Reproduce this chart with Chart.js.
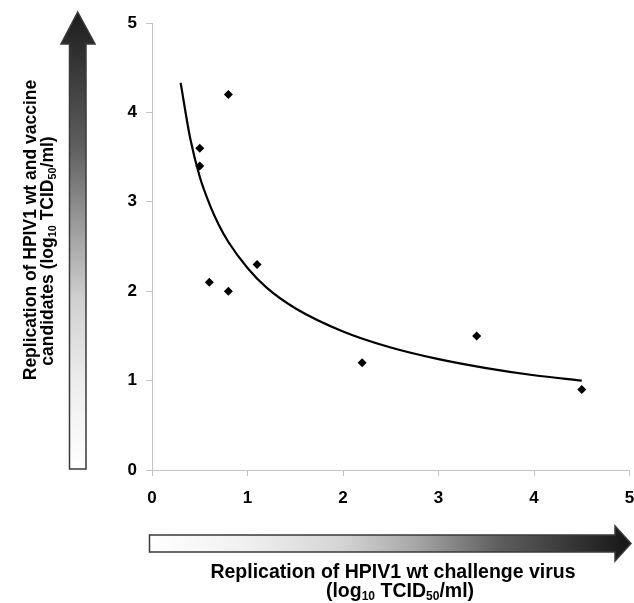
<!DOCTYPE html>
<html><head><meta charset="utf-8">
<script src="https://cdn.jsdelivr.net/npm/chart.js@4"></script>
<style>
body{margin:0;background:#fff;}
#wrap{position:relative;width:634px;height:603px;overflow:hidden;background:#fff;}
#c{position:absolute;left:0;top:0;}
.t{position:absolute;font-family:Arial,"Liberation Sans",sans-serif;font-weight:bold;color:#000;white-space:nowrap;line-height:1;}
.ty{transform:translate(-50%,-50%) rotate(-90deg);font-size:17.5px;}
.tx{transform:translate(-50%,-50%);font-size:19.5px;}
sub{font-size:62%;vertical-align:-0.22em;line-height:0;}
</style></head>
<body>
<div id="wrap">
<canvas id="c" width="634" height="603"></canvas>
<div class="t ty" style="left:31px;top:230px;">Replication of HPIV1 wt and vaccine</div>
<div class="t ty" style="left:48px;top:251px;">candidates (log<sub>10</sub> TCID<sub>50</sub>/ml)</div>
<div class="t tx" style="left:393px;top:572px;">Replication of HPIV1 wt challenge virus</div>
<div class="t tx" style="left:400px;top:591px;">(log<sub>10</sub> TCID<sub>50</sub>/ml)</div>
</div>
<script>
// Observed data points
const xValues = [0.5, 0.5, 0.6, 0.8, 0.8, 1.1, 2.2, 3.4, 4.5];
const yValues = [3.6, 3.4, 2.1, 4.2, 2.0, 2.3, 1.2, 1.5, 0.9];
// Trend curve
const trendX = [0.3, 0.4, 0.5, 0.6, 0.7, 0.8, 1.0, 1.2, 1.5, 2.0, 2.5, 3.0, 3.5, 4.0, 4.5];
const trendY = [4.33, 3.71, 3.28, 2.98, 2.74, 2.55, 2.26, 2.04, 1.81, 1.55, 1.37, 1.24, 1.14, 1.06, 1.00];
// Axis ranges / ticks
const xTicks = [0, 1, 2, 3, 4, 5];
const yTicks = [0, 1, 2, 3, 4, 5];

const FONT = 'Arial, "Liberation Sans", sans-serif';
const AXIS_GREY = '#c4c4c4';

const arrowsPlugin = {
  id: 'arrows',
  afterDraw(chart) {
    const ctx = chart.ctx;
    ctx.save();
    // vertical arrow (white bottom -> dark top)
    let g = ctx.createLinearGradient(0, 469, 0, 12);
    g.addColorStop(0, '#ffffff');
    g.addColorStop(0.19, '#ededed');
    g.addColorStop(0.37, '#d0d0d0');
    g.addColorStop(0.52, '#a0a0a0');
    g.addColorStop(0.70, '#606060');
    g.addColorStop(1, '#1c1c1c');
    ctx.beginPath();
    ctx.moveTo(69.5, 469);
    ctx.lineTo(69.5, 44);
    ctx.lineTo(61, 44);
    ctx.lineTo(77.7, 12);
    ctx.lineTo(95, 44);
    ctx.lineTo(86, 44);
    ctx.lineTo(86, 469);
    ctx.closePath();
    ctx.fillStyle = g;
    ctx.fill();
    ctx.lineWidth = 1.5;
    ctx.strokeStyle = '#3a3a3a';
    ctx.stroke();
    // horizontal arrow (white left -> dark right)
    g = ctx.createLinearGradient(150, 0, 631, 0);
    g.addColorStop(0, '#ffffff');
    g.addColorStop(0.2, '#f0f0f0');
    g.addColorStop(0.4, '#d4d4d4');
    g.addColorStop(0.55, '#a8a8a8');
    g.addColorStop(0.72, '#606060');
    g.addColorStop(1, '#151515');
    ctx.beginPath();
    ctx.moveTo(149.5, 535);
    ctx.lineTo(615, 535);
    ctx.lineTo(615, 526);
    ctx.lineTo(631, 543.5);
    ctx.lineTo(615, 561);
    ctx.lineTo(615, 552);
    ctx.lineTo(149.5, 552);
    ctx.closePath();
    ctx.fillStyle = g;
    ctx.fill();
    ctx.stroke();
    ctx.restore();
  }
};

new Chart(document.getElementById('c'), {
  type: 'scatter',
  data: {
    datasets: [
      {
        label: 'trend',
        data: trendX.map((x, i) => ({x, y: trendY[i]})),
        showLine: true,
        borderColor: '#000',
        borderWidth: 2.2,
        pointRadius: 0,
        cubicInterpolationMode: 'monotone',
        fill: false
      },
      {
        label: 'data',
        data: xValues.map((x, i) => ({x, y: yValues[i]})),
        pointStyle: 'rectRot',
        pointRadius: 4.5,
        backgroundColor: '#000',
        borderColor: '#000',
        borderWidth: 0
      }
    ]
  },
  options: {
    responsive: false,
    animation: false,
    layout: {padding: {top: 23, right: 2, left: 0, bottom: 0}},
    plugins: {legend: {display: false}, tooltip: {enabled: false}, title: {display: false}},
    scales: {
      x: {
        type: 'linear',
        min: xTicks[0], max: xTicks[xTicks.length - 1],
        afterBuildTicks: s => { s.ticks = xTicks.map(v => ({value: v})); },
        ticks: {color: '#000', font: {family: FONT, size: 17, weight: 'bold'}, padding: 12, maxRotation: 0},
        grid: {drawOnChartArea: false, drawTicks: true, tickLength: 6, color: AXIS_GREY},
        border: {color: AXIS_GREY, width: 1},
        afterFit: s => { s.height = 133; s.paddingLeft = 0; s.paddingRight = 0; }
      },
      y: {
        type: 'linear',
        min: yTicks[0], max: yTicks[yTicks.length - 1],
        afterBuildTicks: s => { s.ticks = yTicks.map(v => ({value: v})); },
        ticks: {color: '#000', font: {family: FONT, size: 17, weight: 'bold'}, padding: 9},
        grid: {drawOnChartArea: false, drawTicks: true, tickLength: 6, color: AXIS_GREY},
        border: {color: AXIS_GREY, width: 1},
        afterFit: s => { s.width = 152; s.paddingTop = 0; s.paddingBottom = 0; }
      }
    }
  },
  plugins: [arrowsPlugin]
});
</script>
</body></html>
